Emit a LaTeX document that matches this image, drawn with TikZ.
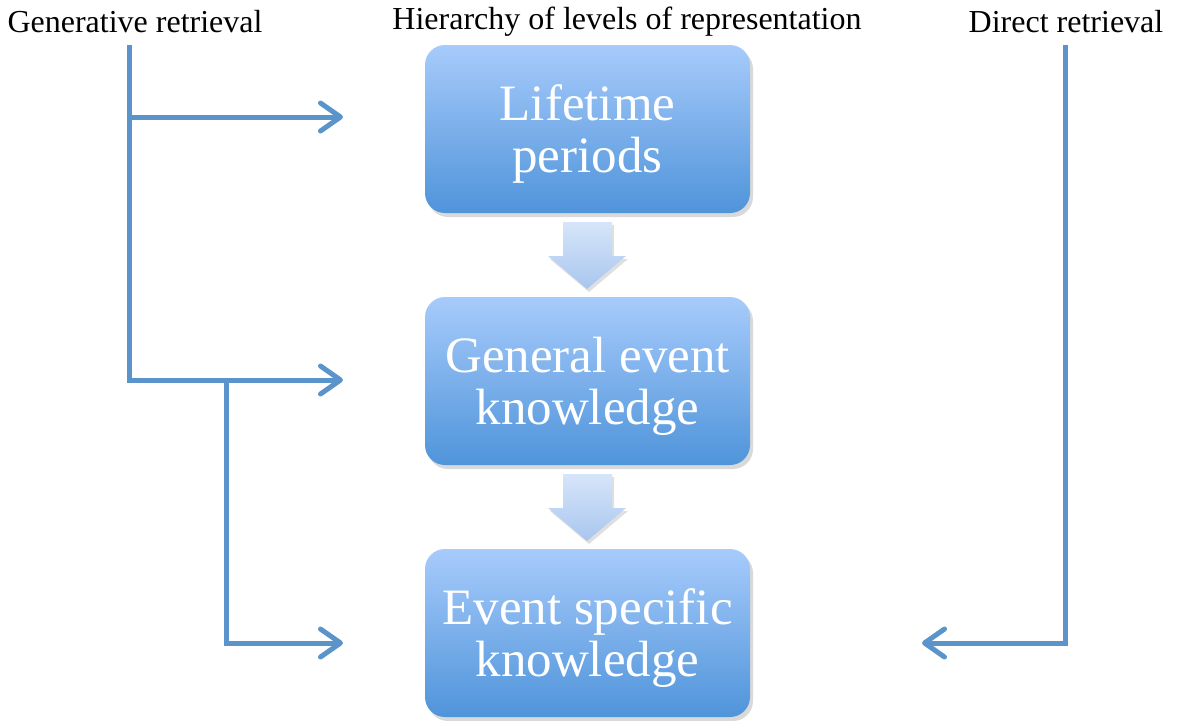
\documentclass[tikz,border=0pt]{standalone}
\usepackage{fontspec}
\setmainfont{Liberation Serif}
\usetikzlibrary{arrows.meta,shadows}
\definecolor{flink}{HTML}{5B93CB}
\definecolor{boxtop}{HTML}{A7CBFB}
\definecolor{boxbot}{HTML}{4F94DA}
\definecolor{chevtop}{HTML}{D6E5F9}
\definecolor{chevbot}{HTML}{A9C6EF}

\begin{document}
\begin{tikzpicture}[x=0.5pt, y=-0.5pt,
  level/.style={rounded corners=10pt, top color=boxtop, bottom color=boxbot,
    minimum width=162.5pt, minimum height=84pt, text=white, align=center,
    font=\fontsize{25.5}{26}\selectfont, text depth=0pt,
    drop shadow={shadow xshift=1.5pt, shadow yshift=-2pt, opacity=0.3}},
  heading/.style={font=\fontsize{16}{18}\selectfont},
  link/.style={flink, line width=2.5pt, line join=miter,
    -{Straight Barb[length=10pt, width=14pt, round]}},
  chevron/.style={top color=chevtop, bottom color=chevbot,
    drop shadow={shadow xshift=1pt, shadow yshift=-1.5pt, opacity=0.25}}]
\useasboundingbox (0,0) rectangle (1179,720);
% =================== headings ===================
\node[heading] (genhead) at (135,22) {Generative retrieval};
\node[heading] (hierhead) at (627,22) {Hierarchy of levels of representation};
\node[heading] (dirhead) at (1066,22) {Direct retrieval};
% =================== levels ===================
\node[level] (life) at (587.5,129) {Lifetime\\periods};
\node[level] (gen) at (587.5,381) {General event\\knowledge};
\node[level] (esk) at (587.5,633) {Event specific\\knowledge};
% block arrows between levels
\foreach \dy in {0,252}{
  \path[chevron] (563,222+\dy) -- (612,222+\dy) -- (612,256+\dy) -- (626,256+\dy)
    -- (587,289+\dy) -- (548,256+\dy) -- (563,256+\dy) -- cycle;
}
% =================== retrieval routes ===================
\coordinate (gtop) at (129,45);
\coordinate (gsplit) at (226,380);
\coordinate (ltip1) at (343,117);
\coordinate (ltip2) at (343,380);
\coordinate (ltip3) at (343,643);
\coordinate (dtop) at (1065,45);
\coordinate (rtip) at (922,643);
\draw[link] (gtop) |- (ltip2);
\draw[link] (gtop |- ltip1) -- (ltip1);
\draw[link] (gsplit) |- (ltip3);
\draw[link] (dtop) |- (rtip);
\end{tikzpicture}
\end{document}
